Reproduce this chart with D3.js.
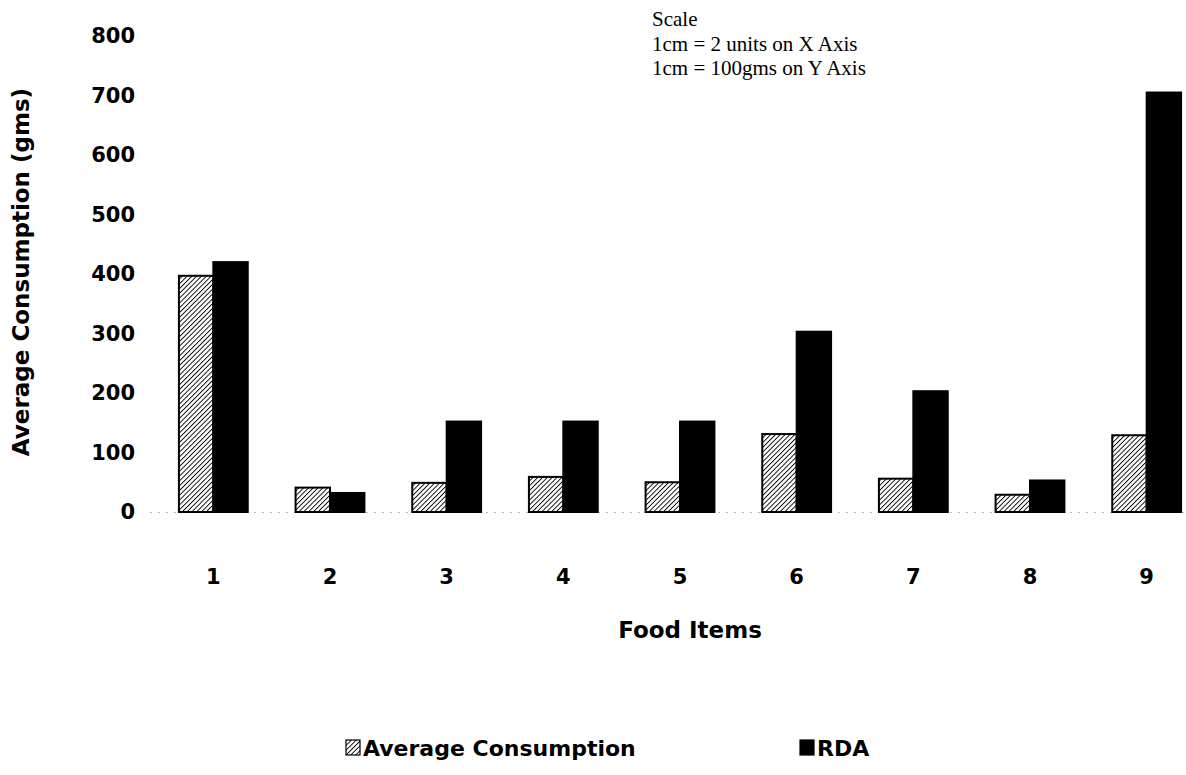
<!DOCTYPE html>
<html>
<head>
<meta charset="utf-8">
<script src="https://cdn.jsdelivr.net/npm/d3@7/dist/d3.min.js"></script>
<style>
  body { margin: 0; background: #fff; }
  svg { display: block; }
</style>
</head>
<body>
<svg width="1186" height="775"></svg>
<script>
// food items chart: average consumption vs RDA
const foodItems = ['1', '2', '3', '4', '5', '6', '7', '8', '9'];
const seriesNames = ['Average Consumption', 'RDA'];
const avgConsumption = [397, 41, 49, 59, 50, 131, 56, 29, 129];
const rda = [420, 32, 152, 152, 152, 303, 203, 53, 705];
const yTicks = [0, 100, 200, 300, 400, 500, 600, 700, 800];
const scaleNote = ['Scale', '1cm = 2 units on X Axis', '1cm = 100gms on Y Axis'];

const svg = d3.select('svg');
const boldFont = "'DejaVu Sans', Verdana, sans-serif";

// hatch pattern for the average consumption bars
const defs = svg.append('defs');
const hatch = defs.append('pattern')
    .attr('id', 'hatch')
    .attr('patternUnits', 'userSpaceOnUse')
    .attr('width', 3.4)
    .attr('height', 3.4)
    .attr('patternTransform', 'rotate(45)');
hatch.append('rect').attr('width', 3.4).attr('height', 3.4).attr('fill', '#fff');
hatch.append('line')
    .attr('x1', 0).attr('y1', 0).attr('x2', 0).attr('y2', 3.4)
    .attr('stroke', '#000').attr('stroke-width', 1.8);

const x = d3.scaleBand()
    .domain(foodItems)
    .range([155, 1205])
    .paddingInner(0.41)
    .paddingOuter(0.205);

const xInner = d3.scaleBand()
    .domain(seriesNames)
    .range([0, x.bandwidth()]);

const y = d3.scaleLinear()
    .domain([0, 800])
    .range([512, 36]);

const fills = ['url(#hatch)', '#000'];

// y axis labels only
const yAxis = svg.append('g')
    .attr('transform', 'translate(140,0)')
    .call(d3.axisLeft(y).tickValues(yTicks).tickSize(0).tickPadding(5));
yAxis.select('.domain').remove();
yAxis.selectAll('text')
    .attr('font-family', boldFont)
    .attr('font-weight', 'bold')
    .attr('font-size', 21)
    .attr('fill', '#000');

// faint dotted baseline
svg.append('line')
    .attr('x1', 150).attr('x2', 1186)
    .attr('y1', y(0) + 0.5).attr('y2', y(0) + 0.5)
    .attr('stroke', '#bbb')
    .attr('stroke-width', 1)
    .attr('stroke-dasharray', '2,6');

// bars
const rows = foodItems.map((f, i) => ({ item: f, values: [avgConsumption[i], rda[i]] }));
const groups = svg.append('g').selectAll('g')
    .data(rows)
    .enter()
    .append('g')
    .attr('transform', d => 'translate(' + x(d.item) + ',0)');

groups.selectAll('rect')
    .data(d => d.values.map((v, j) => ({ name: seriesNames[j], value: v, j: j })))
    .enter()
    .append('rect')
    .attr('x', d => xInner(d.name))
    .attr('y', d => y(d.value))
    .attr('width', xInner.bandwidth())
    .attr('height', d => y(0) - y(d.value))
    .attr('fill', d => fills[d.j])
    .attr('stroke', '#000')
    .attr('stroke-width', 2);

// x axis labels
const xAxis = svg.append('g')
    .attr('transform', 'translate(0,' + (y(0) + 54) + ')')
    .call(d3.axisBottom(x).tickSize(0));
xAxis.select('.domain').remove();
xAxis.selectAll('text')
    .attr('font-family', boldFont)
    .attr('font-weight', 'bold')
    .attr('font-size', 21)
    .attr('fill', '#000');

// axis titles
svg.append('text')
    .attr('x', 690)
    .attr('y', 638)
    .attr('text-anchor', 'middle')
    .attr('font-family', boldFont)
    .attr('font-weight', 'bold')
    .attr('font-size', 23)
    .text('Food Items');

svg.append('text')
    .attr('transform', 'translate(29,272) rotate(-90)')
    .attr('text-anchor', 'middle')
    .attr('font-family', boldFont)
    .attr('font-weight', 'bold')
    .attr('font-size', 23)
    .text('Average Consumption (gms)');

// scale note
svg.append('g').selectAll('text')
    .data(scaleNote)
    .enter()
    .append('text')
    .attr('x', 652)
    .attr('y', (d, i) => 26 + i * 24.5)
    .attr('font-family', "'Liberation Serif', 'Times New Roman', serif")
    .attr('font-size', 21)
    .text(d => d);

// legend
const legendX = [346, 800];
const legend = svg.append('g').selectAll('g')
    .data(seriesNames)
    .enter()
    .append('g')
    .attr('transform', (d, i) => 'translate(' + legendX[i] + ',740)');
legend.append('rect')
    .attr('width', 14).attr('height', 15)
    .attr('fill', (d, i) => fills[i])
    .attr('stroke', '#000')
    .attr('stroke-width', 1.2);
legend.append('text')
    .attr('x', 17)
    .attr('y', 16)
    .attr('font-family', boldFont)
    .attr('font-weight', 'bold')
    .attr('font-size', 22)
    .text(d => d);
</script>
</body>
</html>
